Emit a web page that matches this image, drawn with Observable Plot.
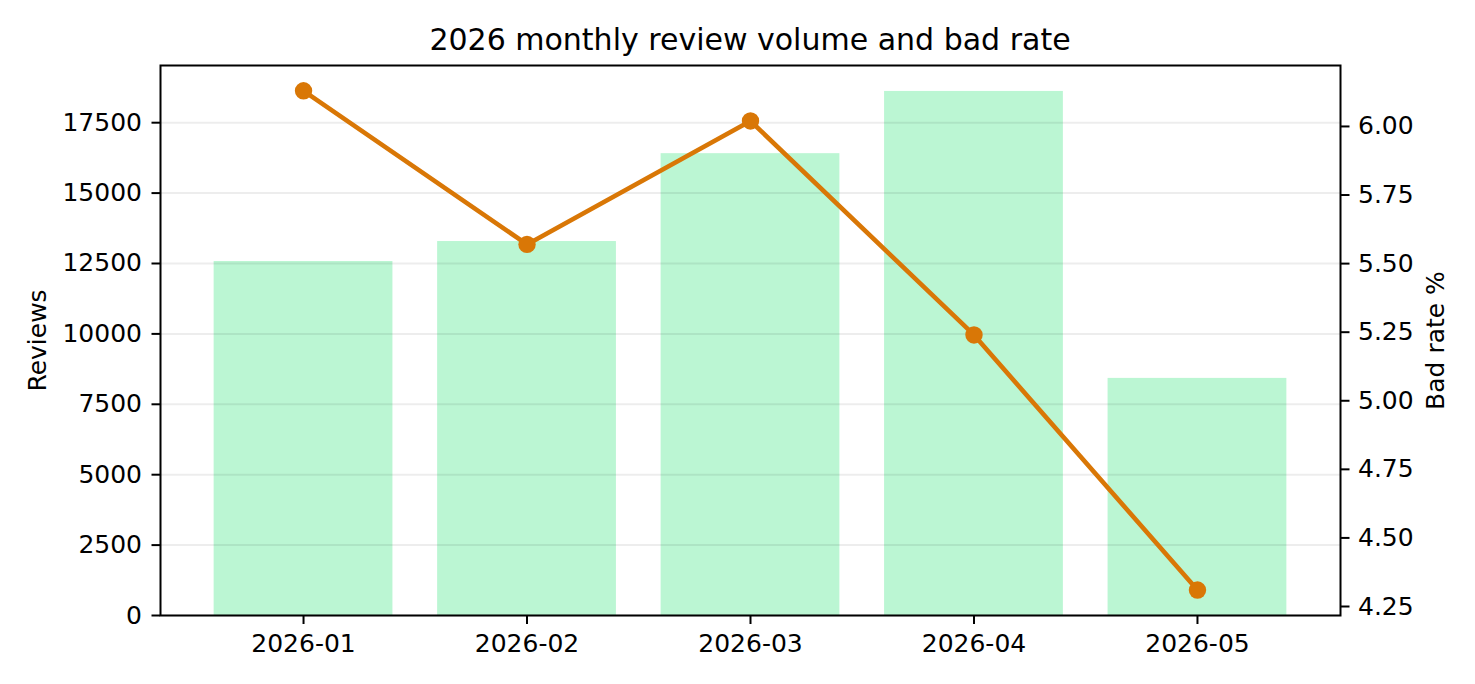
<!DOCTYPE html>
<html>
<head>
<meta charset="utf-8">
<script src="https://cdn.jsdelivr.net/npm/d3@7"></script>
<script src="https://cdn.jsdelivr.net/npm/@observablehq/plot@0.6"></script>
<style>
  html, body { margin: 0; padding: 0; background: white; }
  #wrap { width: 1475px; height: 684px; position: relative; font-family: "DejaVu Sans", sans-serif; }
  #title { height: 55px; box-sizing: border-box; padding-top: 25px; padding-left: 160px; width: 1340px;
           text-align: center; font-size: 30px; line-height: 30px; color: black; white-space: nowrap; }
  #chart { height: 629px; }
  #chart svg { display: block; }
</style>
</head>
<body>
<div id="wrap">
  <div id="title">2026 monthly review volume and bad rate</div>
  <div id="chart"></div>
</div>
<script>
// ---- data ----
const months = ["2026-01", "2026-02", "2026-03", "2026-04", "2026-05"];
const reviews = [12570, 13280, 16400, 18610, 8420];
const badRate = [6.13, 5.57, 6.02, 5.24, 4.31];
const reviewTicks = [0, 2500, 5000, 7500, 10000, 12500, 15000, 17500];
const rateTicks = [4.25, 4.50, 4.75, 5.00, 5.25, 5.50, 5.75, 6.00];

// ---- scales for twin axes ----
const yMax = 19531;
const rateMin = 4.2172, rateMax = 6.2222;
const toY = r => (r - rateMin) / (rateMax - rateMin) * yMax;
const fromY = y => rateMin + y / yMax * (rateMax - rateMin);

const data = months.map((m, i) => ({month: m, reviews: reviews[i], rate: badRate[i], ry: toY(badRate[i])}));

const orange = "#d97706";
const green = "#bbf6d3";

const chart = Plot.plot({
  width: 1475,
  height: 629,
  marginLeft: 160,
  marginRight: 135,
  marginTop: 10,
  marginBottom: 69,
  style: {fontFamily: "DejaVu Sans", fontSize: "25px", color: "black", background: "white"},
  x: {type: "band", domain: months, paddingInner: 0.2, paddingOuter: 0.24, align: 0.5, round: false, label: null},
  y: {domain: [0, yMax], label: null},
  marks: [
    Plot.barY(data, {x: "month", y: "reviews", fill: green}),
    Plot.gridY(reviewTicks, {stroke: "black", strokeOpacity: 0.07, strokeWidth: 2}),
    Plot.line(data, {x: "month", y: "ry", stroke: orange, strokeWidth: 4.6}),
    Plot.dot(data, {x: "month", y: "ry", r: 8.7, fill: orange}),
    Plot.axisX({tickSize: 9, tickPadding: 10, strokeWidth: 2, label: null, fontSize: 25}),
    Plot.axisY({anchor: "left", ticks: reviewTicks, tickFormat: d => String(d), tickSize: 8.5, tickPadding: 10, strokeWidth: 2, label: null, fontSize: 25}),
    Plot.axisY({anchor: "right", ticks: rateTicks.map(toY), tickFormat: d => fromY(d).toFixed(2), tickSize: 8.5, tickPadding: 9, strokeWidth: 2, label: null, fontSize: 25}),
    Plot.frame({stroke: "black", strokeWidth: 2}),
    Plot.text(["Reviews"], {frameAnchor: "left", textAnchor: "middle", rotate: -90, dx: -123, lineAnchor: "middle", fontSize: 25, text: d => d}),
    Plot.text(["Bad rate %"], {frameAnchor: "right", textAnchor: "middle", rotate: -90, dx: 95, lineAnchor: "middle", fontSize: 25, text: d => d})
  ]
});
document.getElementById("chart").appendChild(chart);
</script>
</body>
</html>
